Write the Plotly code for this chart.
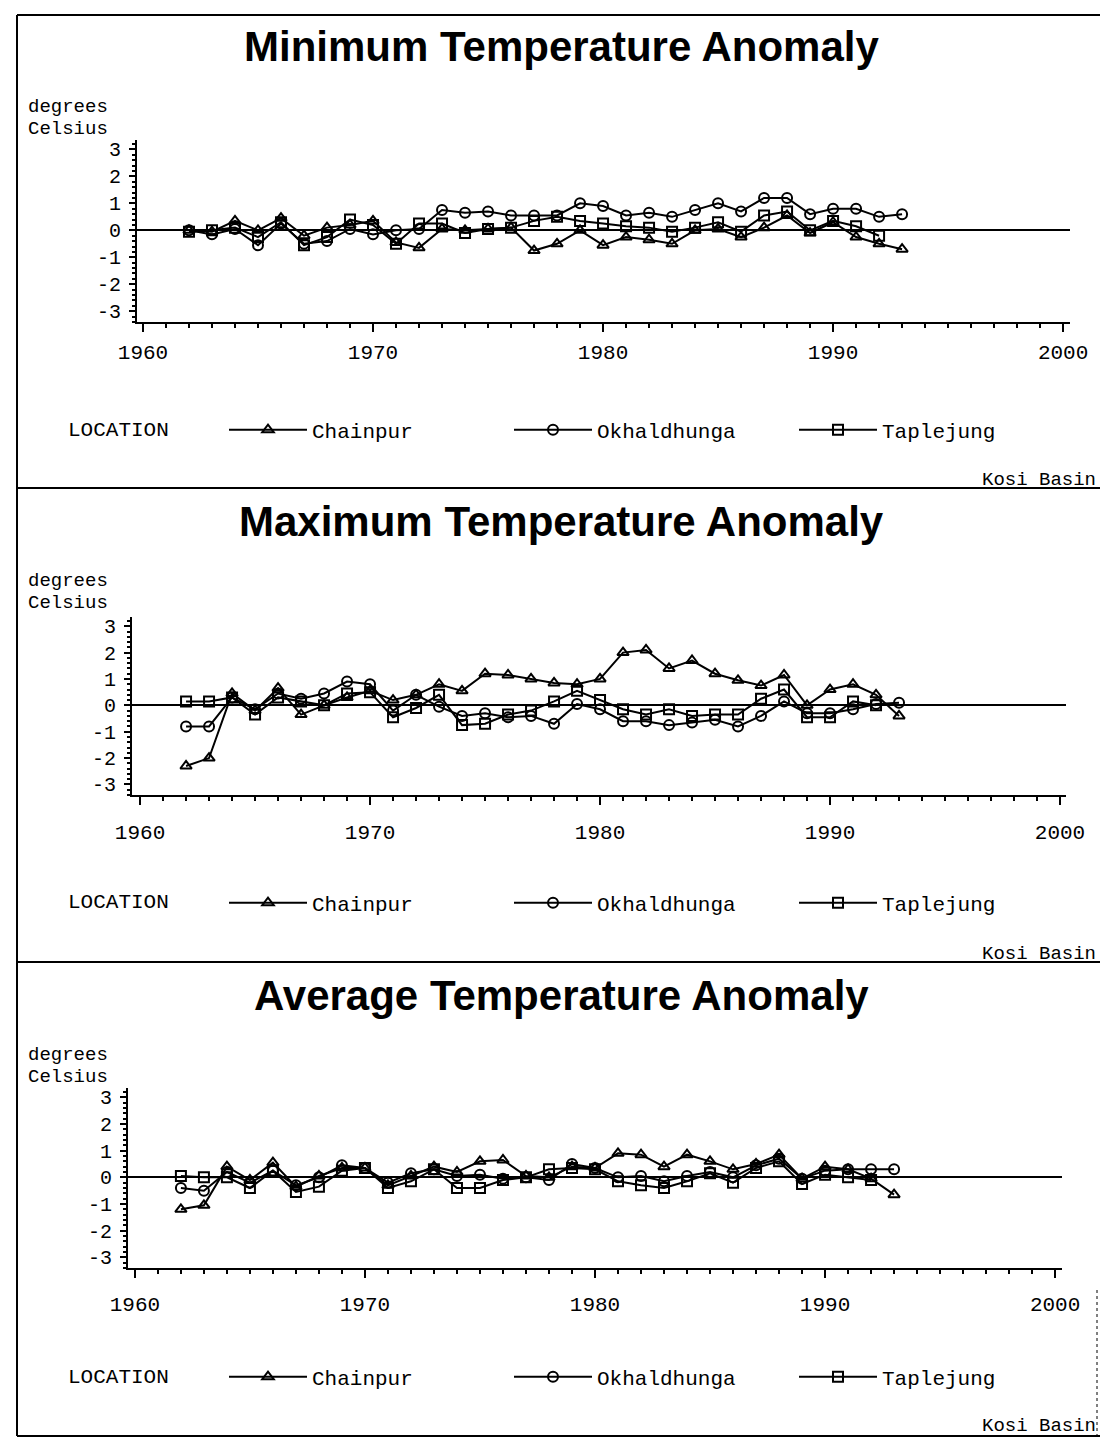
import plotly.graph_objects as go

W, H = 1100, 1439

years = list(range(1962, 1994))

min_chainpur = [0.0, -0.05, 0.35, 0.0, 0.45, -0.2, 0.1, 0.2, 0.35, -0.45, -0.65, 0.05, 0.0, 0.05, 0.1, -0.75,
                -0.5, 0.0, -0.55, -0.25, -0.35, -0.5, 0.0, 0.05, -0.25, 0.1, 0.55, -0.1, 0.3, -0.25, -0.5, -0.7]
min_okhaldhunga = [0.0, -0.15, 0.05, -0.55, 0.25, -0.5, -0.4, 0.05, -0.15, 0.0, 0.05, 0.75, 0.65, 0.7, 0.55, 0.55,
                   0.55, 1.0, 0.9, 0.55, 0.65, 0.5, 0.75, 1.0, 0.7, 1.2, 1.2, 0.6, 0.8, 0.8, 0.5, 0.6]
min_taplejung = [-0.05, 0.0, 0.1, -0.25, 0.3, -0.55, -0.25, 0.4, 0.2, -0.5, 0.25, 0.25, -0.1, 0.05, 0.1, 0.35,
                 0.5, 0.35, 0.25, 0.15, 0.1, -0.05, 0.1, 0.3, -0.05, 0.55, 0.7, 0.0, 0.35, 0.15, -0.2, None]

max_chainpur = [-2.3, -2.0, 0.45, -0.2, 0.65, -0.35, 0.0, 0.3, 0.55, 0.2, 0.4, 0.8, 0.55, 1.2, 1.15, 1.0,
                0.85, 0.8, 1.0, 2.0, 2.1, 1.4, 1.7, 1.2, 0.95, 0.75, 1.15, 0.0, 0.6, 0.8, 0.4, -0.4]
max_okhaldhunga = [-0.8, -0.8, 0.3, -0.15, 0.45, 0.25, 0.45, 0.9, 0.8, -0.2, 0.4, -0.05, -0.4, -0.3, -0.45, -0.4,
                   -0.7, 0.05, -0.15, -0.6, -0.6, -0.75, -0.65, -0.55, -0.8, -0.4, 0.15, -0.3, -0.3, -0.15, 0.05, 0.1]
max_taplejung = [0.15, 0.15, 0.3, -0.35, 0.3, 0.15, 0.0, 0.45, 0.5, -0.45, -0.1, 0.4, -0.75, -0.7, -0.35, -0.2,
                 0.15, 0.55, 0.2, -0.15, -0.35, -0.15, -0.4, -0.35, -0.35, 0.25, 0.6, -0.45, -0.45, 0.15, 0.0, None]

avg_chainpur = [-1.2, -1.05, 0.4, -0.1, 0.55, -0.35, 0.05, 0.35, 0.35, -0.3, 0.05, 0.4, 0.2, 0.6, 0.65, 0.05,
                0.0, 0.4, 0.35, 0.9, 0.85, 0.4, 0.85, 0.6, 0.3, 0.5, 0.85, -0.05, 0.4, 0.3, -0.05, -0.65]
avg_okhaldhunga = [-0.4, -0.5, 0.2, -0.2, 0.25, -0.3, 0.0, 0.45, 0.35, -0.2, 0.15, 0.3, 0.05, 0.1, -0.05, 0.0,
                   -0.1, 0.5, 0.35, 0.0, 0.05, -0.15, 0.05, 0.2, 0.0, 0.45, 0.7, -0.05, 0.25, 0.3, 0.3, 0.3]
avg_taplejung = [0.05, 0.0, 0.0, -0.4, 0.25, -0.55, -0.35, 0.25, 0.35, -0.4, -0.15, 0.3, -0.4, -0.4, -0.1, 0.0,
                 0.3, 0.35, 0.3, -0.15, -0.3, -0.4, -0.15, 0.15, -0.2, 0.35, 0.6, -0.25, 0.1, 0.0, -0.1, None]

locations = ["Chainpur", "Okhaldhunga", "Taplejung"]
symbols = ["triangle-up-open", "circle-open", "square-open"]
titles = ["Minimum Temperature Anomaly", "Maximum Temperature Anomaly", "Average Temperature Anomaly"]
panel_data = [
    [min_chainpur, min_okhaldhunga, min_taplejung],
    [max_chainpur, max_okhaldhunga, max_taplejung],
    [avg_chainpur, avg_okhaldhunga, avg_taplejung],
]
y_ticks = [3, 2, 1, 0, -1, -2, -3]
x_ticks = [1960, 1970, 1980, 1990, 2000]

# panel geometry in pixels
panels = [
    dict(x0=137, x1=1070, xr=[1959.74, 2000.3], y0=140, y1=322, title_y=46, deg_y=107, leg_y=430, kosi_y=480,
         standoff=2),
    dict(x0=132, x1=1066, xr=[1959.65, 2000.26], y0=617, y1=795, title_y=521, deg_y=581, leg_y=903, kosi_y=954,
         standoff=9),
    dict(x0=128, x1=1062, xr=[1959.70, 2000.3], y0=1088, y1=1268, title_y=996, deg_y=1055, leg_y=1377, kosi_y=1426,
         standoff=8),
]

MONO = "Liberation Mono, Courier New, monospace"
SANS = "Liberation Sans, Arial, sans-serif"


def px(x):
    return x / W


def py(y):
    return 1 - y / H


fig = go.Figure()
layout = dict(
    width=W, height=H, margin=dict(l=0, r=0, t=0, b=0, autoexpand=False),
    paper_bgcolor="white", plot_bgcolor="white",
    font=dict(family=MONO, size=20, color="black"),
    showlegend=True,
)
annotations = []
shapes = []

for i, (p, data) in enumerate(zip(panels, panel_data)):
    n = "" if i == 0 else str(i + 1)
    leg = "legend" + n
    for loc, sym, vals in zip(locations, symbols, data):
        fig.add_trace(go.Scatter(
            x=years, y=vals, name=loc, mode="lines+markers",
            line=dict(color="black", width=2),
            marker=dict(symbol=sym, size=10, color="black", line=dict(width=2, color="black")),
            xaxis="x" + n, yaxis="y" + n, legend=leg, connectgaps=False,
        ))
    layout["xaxis" + n] = dict(
        domain=[px(p["x0"]), px(p["x1"])], range=p["xr"], anchor="y" + n, automargin=False,
        tickvals=x_ticks, ticktext=[str(t) for t in x_ticks],
        ticks="outside", ticklen=8, tickwidth=1.5, tickcolor="black",
        showline=True, linecolor="black", linewidth=2, showgrid=False, zeroline=False,
        tickfont=dict(family=MONO, size=21, color="black"), ticklabelstandoff=p["standoff"],
        minor=dict(dtick=1, tick0=1960, ticks="outside", ticklen=4, tickcolor="black", showgrid=False),
    )
    layout["yaxis" + n] = dict(
        domain=[py(p["y1"]), py(p["y0"])], range=[-3.4, 3.35], anchor="x" + n, automargin=False,
        tickvals=y_ticks, ticktext=[str(t) for t in y_ticks],
        ticks="outside", ticklen=6, tickwidth=1.5, tickcolor="black",
        showline=True, linecolor="black", linewidth=2, showgrid=False,
        zeroline=True, zerolinecolor="black", zerolinewidth=2,
        tickfont=dict(family=MONO, size=20, color="black"), ticklabelstandoff=4,
        minor=dict(dtick=0.2, tick0=0, ticks="outside", ticklen=3, tickcolor="black", showgrid=False),
    )
    layout[leg] = dict(
        orientation="h", x=px(224), xanchor="left", y=py(p["leg_y"]), yanchor="middle",
        font=dict(family=MONO, size=21, color="black"), itemwidth=78,
        entrywidth=192, entrywidthmode="pixels", bgcolor="rgba(0,0,0,0)",
    )
    annotations.append(dict(
        text="<b>" + titles[i] + "</b>", x=px(561), y=py(p["title_y"]), xref="paper", yref="paper",
        xanchor="center", yanchor="middle", showarrow=False,
        font=dict(family=SANS, size=42, color="black"),
    ))
    for k, word in enumerate(["degrees", "Celsius"]):
        annotations.append(dict(
            text=word, x=px(26), y=py(p["deg_y"] + 22 * k), xref="paper", yref="paper",
            xanchor="left", yanchor="middle", showarrow=False,
            font=dict(family=MONO, size=19, color="black"),
        ))
    annotations.append(dict(
        text="LOCATION", x=px(66), y=py(p["leg_y"]), xref="paper", yref="paper",
        xanchor="left", yanchor="middle", showarrow=False,
        font=dict(family=MONO, size=21, color="black"),
    ))
    annotations.append(dict(
        text="Kosi Basin", x=px(1098), y=py(p["kosi_y"]), xref="paper", yref="paper",
        xanchor="right", yanchor="middle", showarrow=False,
        font=dict(family=MONO, size=19, color="black"),
    ))

# frame lines
line_style = dict(color="black", width=2)
for yl in [15, 488, 962, 1436]:
    shapes.append(dict(type="line", xref="paper", yref="paper", x0=px(17), x1=px(1100),
                       y0=py(yl), y1=py(yl), line=line_style))
shapes.append(dict(type="line", xref="paper", yref="paper", x0=px(17), x1=px(17), y0=py(15), y1=py(1436),
                   line=line_style))
shapes.append(dict(type="line", xref="paper", yref="paper", x0=px(1097), x1=px(1097), y0=py(1290), y1=py(1436),
                   line=dict(color="black", width=1, dash="dot")))

layout["annotations"] = annotations
layout["shapes"] = shapes
fig.update_layout(**layout)

fig.write_html("out.html")
